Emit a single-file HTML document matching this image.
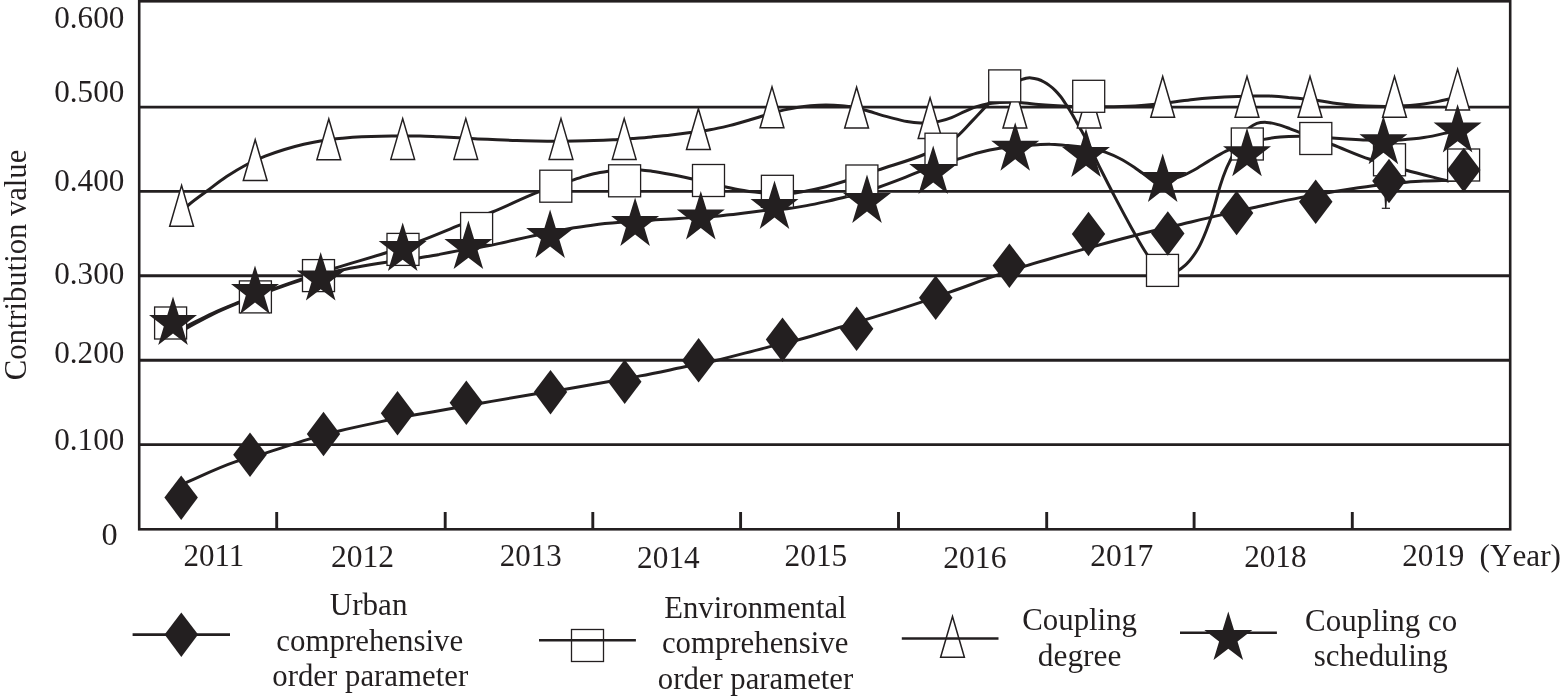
<!DOCTYPE html>
<html lang="en"><head><meta charset="utf-8"><title>Contribution value chart</title>
<style>html,body{margin:0;padding:0;background:#fff}body{width:1560px;height:699px;overflow:hidden}svg{display:block}
text{font-family:"Liberation Serif","DejaVu Serif",serif;font-size:32px;fill:#231f20}
.g{stroke:#231f20;stroke-width:2.9;fill:none}.ln{stroke:#231f20;stroke-width:3;fill:none;stroke-linejoin:round;stroke-linecap:round}
.tr,.sq{fill:#fff;stroke:#231f20;stroke-width:1.5}.sq{stroke-width:1.3}.bk{fill:#231f20}
</style></head><body>
<svg width="1560" height="699" viewBox="0 0 1560 699">
<rect x="0" y="0" width="1560" height="699" fill="#fff"/>
<line class="g" x1="139.2" y1="107.1" x2="1510.2" y2="107.1"/>
<line class="g" x1="139.2" y1="191.4" x2="1510.2" y2="191.4"/>
<line class="g" x1="139.2" y1="275.8" x2="1510.2" y2="275.8"/>
<line class="g" x1="139.2" y1="360.2" x2="1510.2" y2="360.2"/>
<line class="g" x1="139.2" y1="444.6" x2="1510.2" y2="444.6"/>
<line class="g" x1="276.7" y1="512" x2="276.7" y2="529.3"/>
<line class="g" x1="445.2" y1="512" x2="445.2" y2="529.3"/>
<line class="g" x1="592.8" y1="512" x2="592.8" y2="529.3"/>
<line class="g" x1="740.6" y1="512" x2="740.6" y2="529.3"/>
<line class="g" x1="898.5" y1="512" x2="898.5" y2="529.3"/>
<line class="g" x1="1046.7" y1="512" x2="1046.7" y2="529.3"/>
<line class="g" x1="1194.1" y1="512" x2="1194.1" y2="529.3"/>
<line class="g" x1="1352.3" y1="512" x2="1352.3" y2="529.3"/>
<rect x="139.2" y="1.3" width="1371.0" height="528.0" fill="none" stroke="#231f20" stroke-width="2.6"/>
<path class="ln" d="M181.6 211.0C183.7 209.2 185.8 207.3 187.9 205.5C194.1 200.2 200.8 195.6 207.3 190.8C213.7 186.0 220.0 181.0 226.6 176.6C232.8 172.5 239.3 168.5 245.9 165.0C252.2 161.7 258.6 158.9 265.2 156.2C271.5 153.7 278.0 151.5 284.5 149.5C290.9 147.5 297.3 145.7 303.8 144.2C310.2 142.7 316.7 141.4 323.2 140.4C329.6 139.4 336.1 138.8 342.5 138.2C348.9 137.6 355.4 137.1 361.8 136.8C368.2 136.5 374.7 136.3 381.1 136.2C387.5 136.0 394.0 136.1 400.4 136.1C406.9 136.1 413.5 136.0 420.0 136.1C426.4 136.2 432.9 136.5 439.3 136.7C445.7 137.0 452.2 137.4 458.6 137.7C465.0 138.1 471.5 138.5 477.9 138.9C484.4 139.2 490.8 139.5 497.3 139.8C503.7 140.1 510.2 140.4 516.6 140.6C523.0 140.8 529.5 140.9 535.9 141.0C542.3 141.1 548.8 141.2 555.2 141.2C561.6 141.2 568.1 141.1 574.5 141.0C580.9 140.9 587.4 140.8 593.8 140.6C600.3 140.4 606.7 140.1 613.2 139.7C619.6 139.4 626.1 138.9 632.5 138.5C638.9 138.0 645.4 137.5 651.8 136.9C658.2 136.3 664.7 135.7 671.1 134.9C677.5 134.2 684.0 133.4 690.4 132.5C696.9 131.6 703.5 130.9 710.0 129.7C716.5 128.6 722.9 127.1 729.3 125.6C735.8 124.0 742.2 122.1 748.6 120.2C752.5 119.1 756.3 117.8 760.2 116.7C768.2 114.3 776.2 111.8 784.4 109.9C788.5 109.0 792.7 108.1 796.9 107.4C801.4 106.7 805.9 106.1 810.4 105.7C815.5 105.3 820.7 105.0 825.9 105.0C831.1 105.0 836.3 105.2 841.4 105.7C844.0 105.9 846.5 106.2 849.1 106.5C854.3 107.3 859.4 108.6 864.5 110.0C869.1 111.2 873.6 112.7 878.1 114.1C883.2 115.6 888.3 117.1 893.5 118.4C898.0 119.6 902.5 120.8 907.0 121.6C911.5 122.4 916.1 122.9 920.6 123.0C926.7 123.2 932.9 122.7 938.9 121.4C943.2 120.5 947.4 119.2 951.5 117.6C956.1 115.9 960.4 113.3 965.0 111.3C968.8 109.7 972.6 107.9 976.6 106.6C980.4 105.4 984.2 104.4 988.1 103.7C991.9 103.1 995.8 102.9 999.7 102.6C1006.2 102.2 1012.8 102.2 1019.3 102.5C1025.8 102.8 1032.2 103.9 1038.6 104.5C1049.5 105.5 1060.5 106.0 1071.5 106.4C1082.8 106.8 1094.0 107.0 1105.3 106.8C1115.3 106.7 1125.2 106.5 1135.2 105.9C1141.0 105.6 1146.8 105.2 1152.6 104.6C1159.0 104.0 1165.5 103.0 1171.9 102.2C1179.0 101.3 1186.1 100.2 1193.2 99.4C1199.6 98.7 1206.1 98.2 1212.5 97.8C1220.9 97.2 1229.2 96.8 1237.6 96.5C1243.4 96.3 1249.2 96.1 1255.0 96.0C1259.8 96.0 1264.5 96.0 1269.3 96.1C1275.7 96.3 1282.2 96.8 1288.6 97.4C1293.1 97.7 1297.7 98.2 1302.2 98.7C1308.0 99.3 1313.8 99.9 1319.5 100.7C1325.3 101.5 1331.1 102.8 1336.9 103.5C1343.3 104.4 1349.8 105.0 1356.2 105.5C1362.7 105.9 1369.1 106.2 1375.6 106.3C1378.8 106.4 1382.0 106.4 1385.2 106.4C1391.6 106.3 1398.1 106.2 1404.5 105.8C1410.9 105.4 1417.4 104.9 1423.8 104.0C1428.4 103.3 1432.9 102.5 1437.4 101.6C1440.9 100.9 1444.5 100.1 1448.0 99.3C1451.2 98.5 1454.4 97.8 1457.6 97.0"/>
<path class="ln" d="M173.0 333.0C177.6 330.7 182.2 328.4 186.8 326.1C195.6 321.7 204.2 317.1 213.1 313.0C221.8 309.0 230.8 305.5 239.7 301.9C250.2 297.7 260.8 293.6 271.4 289.7C281.8 285.9 292.3 282.2 302.8 278.6C313.4 275.0 324.1 271.5 334.8 268.2C352.1 262.7 369.7 258.1 386.9 252.5C397.7 249.0 408.4 245.4 419.0 241.5C432.7 236.5 446.1 230.6 459.6 225.2C470.5 220.8 481.5 216.5 492.4 212.0C508.3 205.4 523.7 197.6 539.8 191.4C545.2 189.4 550.6 187.4 556.0 185.6C561.3 183.7 566.7 182.1 572.0 180.4C576.1 179.0 580.1 177.6 584.2 176.4C587.4 175.4 590.6 174.5 593.8 173.7C598.6 172.6 603.4 171.9 608.3 171.2C613.8 170.4 619.4 169.7 625.0 169.5C630.3 169.4 635.6 169.5 640.8 169.9C644.5 170.2 648.1 170.7 651.8 171.2C658.3 172.1 664.7 173.3 671.1 174.5C678.2 175.8 685.3 177.4 692.4 179.0C697.8 180.2 703.1 181.5 708.5 182.8C714.0 184.1 719.6 185.5 725.1 186.8C729.7 187.8 734.3 189.0 739.0 189.8C746.3 191.2 753.8 192.1 761.2 192.8C766.5 193.3 771.7 193.7 777.0 193.8C782.4 193.9 787.8 193.8 793.1 193.3C797.6 192.8 802.1 191.8 806.6 190.9C813.1 189.7 819.5 188.3 825.9 186.7C832.7 184.9 839.5 182.9 846.2 180.8C856.8 177.6 867.2 173.7 877.7 170.2C893.6 164.8 909.9 160.5 925.4 154.0C930.6 151.9 936.0 149.8 941.0 147.1C946.6 144.1 952.0 140.6 956.9 136.6C962.6 131.9 967.3 126.0 972.5 120.6C977.8 115.1 982.8 109.5 988.2 104.1C993.3 98.9 998.1 93.1 1004.0 88.9C1009.1 85.3 1014.8 82.3 1020.7 80.0C1022.4 79.4 1024.2 78.6 1026.0 78.2C1027.6 77.9 1029.3 77.8 1031.0 77.9C1033.3 78.0 1035.7 78.5 1037.9 79.2C1039.9 79.8 1041.8 80.7 1043.6 81.7C1045.6 82.8 1047.5 84.0 1049.3 85.4C1051.4 86.9 1053.3 88.6 1055.1 90.4C1057.1 92.4 1059.0 94.6 1060.8 96.8C1062.5 98.9 1063.9 101.3 1065.4 103.5C1066.9 105.8 1068.5 108.1 1069.9 110.5C1071.5 113.1 1073.0 115.8 1074.5 118.4C1075.8 120.8 1077.2 123.1 1078.5 125.5C1079.5 127.3 1080.5 129.0 1081.5 130.8C1082.4 132.4 1083.4 134.1 1084.3 135.8C1089.7 145.6 1094.0 155.9 1099.0 165.9C1102.2 172.3 1105.4 178.6 1108.7 185.0C1111.1 189.6 1113.5 194.3 1115.9 198.9C1121.0 208.6 1126.1 218.2 1131.4 227.7C1136.4 236.5 1141.1 245.6 1146.8 254.0C1149.4 257.9 1151.7 262.2 1155.0 265.3C1157.9 268.0 1161.4 271.0 1165.0 271.9C1169.2 273.0 1174.7 272.2 1178.7 270.2C1180.8 269.2 1182.7 267.5 1184.5 265.9C1186.4 264.2 1188.1 262.3 1189.8 260.4C1193.1 256.6 1195.9 252.3 1198.4 248.0C1201.5 242.6 1203.8 236.8 1206.1 231.0C1208.3 225.4 1210.3 219.7 1212.1 214.0C1213.6 209.3 1214.9 204.6 1216.2 199.9C1217.6 195.0 1218.8 190.0 1220.4 185.1C1222.1 179.7 1224.0 174.2 1226.2 169.0C1227.8 165.2 1229.8 161.6 1231.5 157.9C1234.4 151.7 1236.3 144.9 1240.0 139.2C1242.6 135.1 1245.4 130.8 1249.2 127.9C1251.5 126.1 1254.2 124.4 1256.9 123.4C1259.9 122.4 1263.4 122.3 1266.6 122.4C1270.5 122.5 1274.3 123.6 1278.1 124.6C1282.0 125.7 1285.9 127.2 1289.7 128.6C1293.2 129.9 1296.6 131.3 1300.0 132.6C1310.6 136.7 1321.4 140.4 1332.1 144.5C1344.7 149.3 1357.0 155.1 1369.8 159.3C1376.1 161.4 1382.6 163.2 1389.0 165.1C1394.5 166.7 1400.0 168.4 1405.5 170.0C1419.6 174.0 1433.8 177.3 1448.0 181.0"/>
<path class="ln" d="M173.0 335.5C177.6 333.0 182.2 330.5 186.8 328.1C195.6 323.4 204.2 318.4 213.1 314.1C221.8 309.9 230.8 306.2 239.7 302.5C250.2 298.3 260.8 294.3 271.4 290.5C281.8 286.7 292.2 282.8 302.8 279.6C313.3 276.5 324.1 273.8 334.8 271.4C352.0 267.5 369.5 264.8 386.9 262.1C397.9 260.5 409.0 259.5 420.0 257.7C426.4 256.7 432.9 255.5 439.3 254.4C445.7 253.2 452.2 251.8 458.6 250.6C466.9 249.1 475.4 248.1 483.7 246.6C488.2 245.8 492.8 244.9 497.3 243.9C503.8 242.6 510.2 241.0 516.6 239.5C523.0 238.1 529.5 236.6 535.9 235.2C548.1 232.6 560.3 230.1 572.6 228.0C579.6 226.9 586.7 225.7 593.8 224.9C602.8 223.7 611.9 223.0 620.9 222.3C631.2 221.4 641.5 220.9 651.8 220.2C660.8 219.6 669.8 218.9 678.8 218.4C689.2 217.7 699.6 217.4 710.0 216.6C716.4 216.1 722.9 215.4 729.3 214.8C735.7 214.1 742.2 213.2 748.6 212.5C753.8 211.9 758.9 211.2 764.1 210.6C771.8 209.8 779.6 209.7 787.3 208.8C793.8 207.9 800.2 206.8 806.6 205.6C813.1 204.4 819.5 203.0 825.9 201.6C832.7 200.1 839.5 198.6 846.2 196.8C856.9 194.1 867.5 191.0 878.0 187.5C886.5 184.6 894.9 181.4 903.2 178.2C908.4 176.1 913.4 173.9 918.6 171.9C930.9 167.1 943.7 163.5 956.3 159.5C964.3 157.1 972.3 154.3 980.4 152.3C986.8 150.7 993.2 149.4 999.7 148.3C1012.2 146.1 1025.0 145.3 1037.7 144.7C1041.9 144.5 1046.0 144.2 1050.2 144.3C1054.7 144.3 1059.2 144.8 1063.7 145.2C1077.7 146.5 1092.1 147.4 1105.3 152.1C1110.2 153.9 1115.1 156.0 1119.8 158.5C1125.1 161.2 1130.2 164.6 1135.2 167.9C1137.8 169.7 1140.2 171.7 1142.9 173.2C1148.2 176.2 1154.1 179.1 1160.0 179.8C1166.3 180.5 1173.4 178.9 1179.6 176.9C1184.3 175.4 1188.8 172.9 1193.2 170.5C1198.5 167.7 1203.4 164.2 1208.6 161.1C1214.3 157.7 1220.0 154.1 1226.0 151.2C1237.8 145.6 1250.8 141.8 1263.7 139.4C1269.1 138.3 1274.6 137.6 1280.1 137.1C1286.7 136.4 1293.4 136.3 1300.0 136.3C1310.7 136.2 1321.4 137.3 1332.1 137.9C1336.9 138.2 1341.8 138.6 1346.6 138.9C1353.0 139.3 1359.5 139.8 1365.9 140.0C1377.5 140.4 1389.1 140.6 1400.7 139.9C1408.4 139.4 1416.2 138.8 1423.8 137.6C1431.6 136.4 1439.3 134.5 1447.0 132.7C1450.5 131.8 1454.1 130.9 1457.6 130.0"/>
<path class="ln" d="M181.0 485.0C183.8 483.7 186.6 482.5 189.4 481.2C204.7 474.4 219.9 467.1 235.8 461.7C245.5 458.4 255.6 456.1 265.5 453.1C279.7 448.8 293.7 443.6 308.0 439.4C318.3 436.4 328.6 433.6 339.0 431.0C352.6 427.6 366.3 424.8 380.0 421.9C391.3 419.5 402.6 417.2 414.0 415.1C426.0 412.9 438.1 411.0 450.1 408.8C460.8 406.9 471.6 404.9 482.3 403.0C499.7 399.9 517.1 396.9 534.6 394.0C545.3 392.2 556.1 390.7 566.8 388.9C581.0 386.5 595.1 383.8 609.3 381.4C619.6 379.5 629.9 377.9 640.2 375.9C654.4 373.3 668.5 370.2 682.7 367.3C693.4 365.1 704.2 363.1 714.9 360.7C732.2 356.8 749.2 351.8 766.4 347.6C777.1 344.9 787.9 342.7 798.6 339.8C812.9 336.0 826.9 331.2 841.0 326.9C853.3 323.2 865.7 319.7 878.0 315.9C892.2 311.5 906.4 307.0 920.5 302.3C930.5 298.9 940.5 295.4 950.5 291.9C966.3 286.4 981.9 280.2 997.8 274.9C1006.9 271.8 1016.0 269.0 1025.1 266.1C1044.3 260.2 1063.7 254.8 1083.1 249.4C1106.2 243.0 1129.3 236.6 1152.6 231.0C1161.6 228.8 1170.6 226.8 1179.6 224.7C1193.5 221.4 1207.3 218.0 1221.2 214.9C1231.8 212.4 1242.4 210.1 1253.0 207.7C1268.6 204.3 1284.3 200.6 1300.0 197.6C1310.6 195.6 1321.3 193.8 1332.0 192.0C1345.6 189.8 1359.3 187.5 1373.0 185.7C1383.5 184.4 1394.0 183.2 1404.5 182.4C1410.9 181.9 1417.4 181.4 1423.8 181.1C1431.9 180.7 1439.9 180.6 1448.0 180.4C1453.3 180.3 1458.5 180.1 1463.8 180.0"/>
<polygon class="tr" points="181.6,185.4 169.7,226.2 193.5,226.2"/>
<polygon class="tr" points="255.2,139.7 243.3,180.5 267.1,180.5"/>
<polygon class="tr" points="328.8,119.0 316.9,159.8 340.7,159.8"/>
<polygon class="tr" points="402.7,118.6 390.8,159.4 414.6,159.4"/>
<polygon class="tr" points="465.8,118.6 453.9,159.4 477.7,159.4"/>
<polygon class="tr" points="561.0,118.6 549.1,159.4 572.9,159.4"/>
<polygon class="tr" points="624.2,118.6 612.3,159.4 636.1,159.4"/>
<polygon class="tr" points="698.4,108.7 686.5,149.5 710.3,149.5"/>
<polygon class="tr" points="772.0,86.9 760.1,127.7 783.9,127.7"/>
<polygon class="tr" points="856.6,87.2 844.7,128.0 868.5,128.0"/>
<polygon class="tr" points="930.1,97.8 918.2,138.5 942.0,138.5"/>
<polygon class="tr" points="1014.9,87.2 1003.0,128.0 1026.8,128.0"/>
<polygon class="tr" points="1089.2,87.2 1077.3,128.0 1101.1,128.0"/>
<polygon class="tr" points="1162.7,76.5 1150.8,117.2 1174.6,117.2"/>
<polygon class="tr" points="1247.0,76.5 1235.1,117.2 1258.9,117.2"/>
<polygon class="tr" points="1310.0,76.5 1298.1,117.2 1321.9,117.2"/>
<polygon class="tr" points="1394.5,76.5 1382.6,117.2 1406.4,117.2"/>
<polygon class="tr" points="1457.6,69.1 1445.7,109.9 1469.5,109.9"/>
<rect class="sq" x="154.6" y="307.0" width="32.0" height="32.0"/>
<rect class="sq" x="239.4" y="280.9" width="32.0" height="32.0"/>
<rect class="sq" x="302.5" y="259.6" width="32.0" height="32.0"/>
<rect class="sq" x="387.0" y="233.4" width="32.0" height="32.0"/>
<rect class="sq" x="460.6" y="212.5" width="32.0" height="32.0"/>
<rect class="sq" x="539.8" y="170.2" width="32.0" height="32.0"/>
<rect class="sq" x="608.6" y="164.8" width="32.0" height="32.0"/>
<rect class="sq" x="692.5" y="164.5" width="32.0" height="32.0"/>
<rect class="sq" x="761.4" y="175.3" width="32.0" height="32.0"/>
<rect class="sq" x="845.9" y="165.0" width="32.0" height="32.0"/>
<rect class="sq" x="925.0" y="133.2" width="32.0" height="32.0"/>
<rect class="sq" x="988.7" y="69.9" width="32.0" height="32.0"/>
<rect class="sq" x="1072.7" y="80.3" width="32.0" height="32.0"/>
<rect class="sq" x="1146.5" y="254.4" width="32.0" height="32.0"/>
<rect class="sq" x="1231.3" y="128.0" width="32.0" height="32.0"/>
<rect class="sq" x="1299.8" y="122.5" width="32.0" height="32.0"/>
<rect class="sq" x="1373.5" y="143.8" width="32.0" height="32.0"/>
<rect class="sq" x="1447.6" y="149.0" width="32.0" height="32.0"/>
<polygon class="bk" points="181.2,475.4 197.9,497.6 181.2,519.9 164.4,497.6"/>
<polygon class="bk" points="250.0,432.4 266.8,454.7 250.0,476.9 233.2,454.7"/>
<polygon class="bk" points="323.5,411.8 340.2,434.0 323.5,456.2 306.8,434.0"/>
<polygon class="bk" points="397.5,390.9 414.2,413.2 397.5,435.4 380.8,413.2"/>
<polygon class="bk" points="466.3,380.4 483.1,402.7 466.3,424.9 449.6,402.7"/>
<polygon class="bk" points="550.5,369.9 567.2,392.1 550.5,414.4 533.8,392.1"/>
<polygon class="bk" points="624.7,359.6 641.5,381.8 624.7,404.1 608.0,381.8"/>
<polygon class="bk" points="698.6,338.1 715.4,360.4 698.6,382.6 681.9,360.4"/>
<polygon class="bk" points="782.5,317.4 799.2,339.6 782.5,361.9 765.8,339.6"/>
<polygon class="bk" points="856.6,306.6 873.4,328.8 856.6,351.1 839.9,328.8"/>
<polygon class="bk" points="935.7,275.6 952.5,297.8 935.7,320.1 919.0,297.8"/>
<polygon class="bk" points="1009.4,243.4 1026.2,265.6 1009.4,287.9 992.6,265.6"/>
<polygon class="bk" points="1088.5,211.8 1105.2,234.0 1088.5,256.2 1071.8,234.0"/>
<polygon class="bk" points="1167.8,211.2 1184.5,233.5 1167.8,255.8 1151.0,233.5"/>
<polygon class="bk" points="1236.6,190.8 1253.3,213.0 1236.6,235.2 1219.8,213.0"/>
<polygon class="bk" points="1315.7,179.6 1332.5,201.8 1315.7,224.1 1299.0,201.8"/>
<polygon class="bk" points="1389.0,158.8 1405.8,181.0 1389.0,203.2 1372.2,181.0"/>
<polygon class="bk" points="1463.8,147.8 1480.5,170.0 1463.8,192.2 1447.0,170.0"/>
<polygon class="bk" points="173.0,296.4 178.7,314.9 197.0,314.9 182.2,326.4 187.8,344.9 173.0,333.5 158.2,344.9 163.8,326.4 149.0,314.9 167.3,314.9"/>
<polygon class="bk" points="255.0,265.4 260.7,283.9 279.0,283.9 264.2,295.4 269.8,313.9 255.0,302.5 240.2,313.9 245.8,295.4 231.0,283.9 249.3,283.9"/>
<polygon class="bk" points="320.7,252.1 326.4,270.6 344.7,270.6 329.9,282.1 335.5,300.6 320.7,289.2 305.9,300.6 311.5,282.1 296.7,270.6 315.0,270.6"/>
<polygon class="bk" points="402.7,222.6 408.4,241.1 426.7,241.1 411.9,252.6 417.5,271.1 402.7,259.7 387.9,271.1 393.5,252.6 378.7,241.1 397.0,241.1"/>
<polygon class="bk" points="468.4,220.6 474.1,239.1 492.4,239.1 477.6,250.6 483.2,269.1 468.4,257.7 453.6,269.1 459.2,250.6 444.4,239.1 462.7,239.1"/>
<polygon class="bk" points="550.1,209.4 555.8,227.9 574.1,227.9 559.3,239.4 564.9,257.9 550.1,246.5 535.3,257.9 540.9,239.4 526.1,227.9 544.4,227.9"/>
<polygon class="bk" points="635.1,197.4 640.8,215.9 659.1,215.9 644.3,227.4 649.9,245.9 635.1,234.5 620.3,245.9 625.9,227.4 611.1,215.9 629.4,215.9"/>
<polygon class="bk" points="700.8,190.9 706.5,209.4 724.8,209.4 710.0,220.9 715.6,239.4 700.8,228.0 686.0,239.4 691.6,220.9 676.8,209.4 695.1,209.4"/>
<polygon class="bk" points="774.5,180.4 780.2,198.9 798.5,198.9 783.7,210.4 789.3,228.9 774.5,217.5 759.7,228.9 765.3,210.4 750.5,198.9 768.8,198.9"/>
<polygon class="bk" points="867.0,174.4 872.7,192.9 891.0,192.9 876.2,204.4 881.8,222.9 867.0,211.5 852.2,222.9 857.8,204.4 843.0,192.9 861.3,192.9"/>
<polygon class="bk" points="933.2,145.4 938.9,163.9 957.2,163.9 942.4,175.4 948.0,193.9 933.2,182.5 918.4,193.9 924.0,175.4 909.2,163.9 927.5,163.9"/>
<polygon class="bk" points="1015.2,122.2 1020.9,140.7 1039.2,140.7 1024.4,152.2 1030.0,170.7 1015.2,159.3 1000.4,170.7 1006.0,152.2 991.2,140.7 1009.5,140.7"/>
<polygon class="bk" points="1086.0,128.6 1091.7,147.1 1110.0,147.1 1095.2,158.6 1100.8,177.1 1086.0,165.7 1071.2,177.1 1076.8,158.6 1062.0,147.1 1080.3,147.1"/>
<polygon class="bk" points="1162.7,153.5 1168.4,172.0 1186.7,172.0 1171.9,183.5 1177.5,202.0 1162.7,190.6 1147.9,202.0 1153.5,183.5 1138.7,172.0 1157.0,172.0"/>
<polygon class="bk" points="1247.0,127.8 1252.7,146.3 1271.0,146.3 1256.2,157.8 1261.8,176.3 1247.0,164.9 1232.2,176.3 1237.8,157.8 1223.0,146.3 1241.3,146.3"/>
<polygon class="bk" points="1383.4,115.7 1389.1,134.2 1407.4,134.2 1392.6,145.7 1398.2,164.2 1383.4,152.8 1368.6,164.2 1374.2,145.7 1359.4,134.2 1377.7,134.2"/>
<polygon class="bk" points="1457.6,104.1 1463.3,122.6 1481.6,122.6 1466.8,134.1 1472.4,152.6 1457.6,141.2 1442.8,152.6 1448.4,134.1 1433.6,122.6 1451.9,122.6"/>
<polygon class="bk" points="1384.3,194 1387.3,194 1386.4,208.4 1385.1,208.4"/><line x1="1381.8" y1="208.3" x2="1390" y2="208.3" stroke="#231f20" stroke-width="1.2"/>
<text id="y6" x="54.25" y="27.7" textLength="70.10" lengthAdjust="spacingAndGlyphs">0.600</text>
<text id="y5" x="54.25" y="101.6" textLength="70.10" lengthAdjust="spacingAndGlyphs">0.500</text>
<text id="y4" x="54.25" y="191.2" textLength="70.10" lengthAdjust="spacingAndGlyphs">0.400</text>
<text id="y3" x="54.25" y="283.6" textLength="70.10" lengthAdjust="spacingAndGlyphs">0.300</text>
<text id="y2" x="54.25" y="362.6" textLength="70.10" lengthAdjust="spacingAndGlyphs">0.200</text>
<text id="y1" x="54.25" y="449.7" textLength="70.10" lengthAdjust="spacingAndGlyphs">0.100</text>
<text id="y0" x="101.45" y="544.7" textLength="16.16" lengthAdjust="spacingAndGlyphs">0</text>
<text id="x11" x="183.50" y="565.9" textLength="60.76" lengthAdjust="spacingAndGlyphs">2011</text>
<text id="x12" x="330.95" y="567.2" textLength="63.17" lengthAdjust="spacingAndGlyphs">2012</text>
<text id="x13" x="499.80" y="566.0" textLength="61.85" lengthAdjust="spacingAndGlyphs">2013</text>
<text id="x14" x="637.10" y="567.6" textLength="62.64" lengthAdjust="spacingAndGlyphs">2014</text>
<text id="x15" x="784.60" y="566.4" textLength="62.70" lengthAdjust="spacingAndGlyphs">2015</text>
<text id="x16" x="943.15" y="567.6" textLength="63.38" lengthAdjust="spacingAndGlyphs">2016</text>
<text id="x17" x="1090.30" y="566.4" textLength="62.97" lengthAdjust="spacingAndGlyphs">2017</text>
<text id="x18" x="1244.15" y="567.2" textLength="62.36" lengthAdjust="spacingAndGlyphs">2018</text>
<text id="x19" x="1402.15" y="566.2" textLength="62.16" lengthAdjust="spacingAndGlyphs">2019</text>
<text id="xyr" x="1479.50" y="566.2" textLength="81.47" lengthAdjust="spacingAndGlyphs" style="font-kerning:none">(Year)</text>
<text id="l1a" x="329.75" y="614.6" textLength="77.71" lengthAdjust="spacingAndGlyphs">Urban</text>
<text id="l1b" x="276.35" y="650.5" textLength="186.86" lengthAdjust="spacingAndGlyphs">comprehensive</text>
<text id="l1c" x="272.25" y="685.9" textLength="195.96" lengthAdjust="spacingAndGlyphs">order parameter</text>
<text id="l2a" x="664.30" y="618.0" textLength="182.26" lengthAdjust="spacingAndGlyphs">Environmental</text>
<text id="l2b" x="661.95" y="653.0" textLength="186.36" lengthAdjust="spacingAndGlyphs">comprehensive</text>
<text id="l2c" x="657.80" y="688.5" textLength="195.42" lengthAdjust="spacingAndGlyphs">order parameter</text>
<text id="l3a" x="1022.25" y="630.0" textLength="114.77" lengthAdjust="spacingAndGlyphs">Coupling</text>
<text id="l3b" x="1037.80" y="665.9" textLength="83.53" lengthAdjust="spacingAndGlyphs">degree</text>
<text id="l4a" x="1305.10" y="630.8" textLength="152.17" lengthAdjust="spacingAndGlyphs">Coupling co</text>
<text id="l4b" x="1313.75" y="666.2" textLength="133.86" lengthAdjust="spacingAndGlyphs">scheduling</text>
<text id="yt" transform="translate(25.7,379.8) rotate(-90)" x="-0.50" y="0" textLength="230.56" lengthAdjust="spacingAndGlyphs">Contribution value</text>
<line class="g" style="stroke-width:2.6" x1="132.6" y1="634.6" x2="230" y2="634.6"/><polygon class="bk" points="181.3,612.4 198.1,634.6 181.3,656.9 164.6,634.6"/>
<rect class="sq" x="571.5" y="629.5" width="32.0" height="32.0"/><line class="g" style="stroke-width:2.6" x1="539" y1="640.3" x2="635.9" y2="640.3"/>
<polygon class="tr" points="952.5,616.5 940.6,657.2 964.4,657.2"/><line class="g" style="stroke-width:2.6" x1="901.8" y1="638.5" x2="998.5" y2="638.5"/>
<line class="g" style="stroke-width:2.6" x1="1180" y1="632.8" x2="1276.9" y2="632.8"/><polygon class="bk" points="1228.3,611.6 1234.0,630.1 1252.3,630.1 1237.5,641.6 1243.1,660.1 1228.3,648.7 1213.5,660.1 1219.1,641.6 1204.3,630.1 1222.6,630.1"/>
</svg></body></html>
